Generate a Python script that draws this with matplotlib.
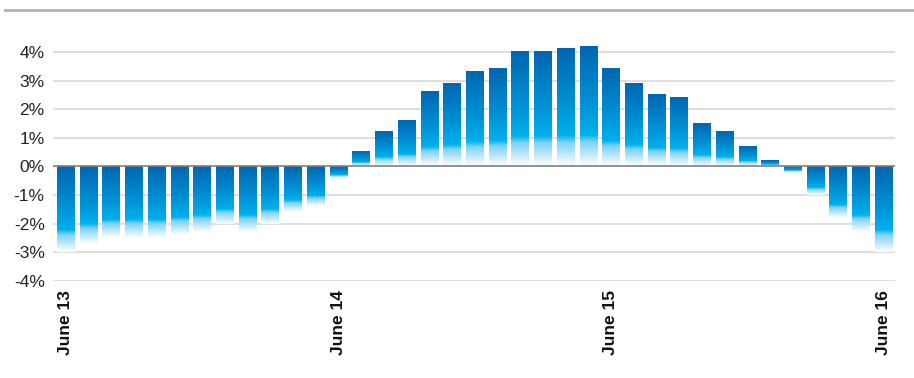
import numpy as np
import matplotlib
matplotlib.use('Agg')
import matplotlib.pyplot as plt
from matplotlib.colors import LinearSegmentedColormap
from matplotlib.lines import Line2D

plt.rcParams['font.family'] = ['Liberation Sans', 'DejaVu Sans']

# monthly values, June 13 .. June 16
values = [-3.0, -2.7, -2.5, -2.5, -2.5, -2.4, -2.3, -2.0, -2.3, -2.0, -1.6, -1.4, -0.4,
          0.5, 1.2, 1.6, 2.6, 2.9, 3.3, 3.4, 4.0, 4.0, 4.1, 4.2, 3.4, 2.9, 2.5,
          2.4, 1.5, 1.2, 0.7, 0.2, -0.2, -1.0, -1.8, -2.3, -3.0]
tick_pos = [0, 12, 24, 36]
tick_labels = ['June 13', 'June 14', 'June 15', 'June 16']
y_ticks = [-4, -3, -2, -1, 0, 1, 2, 3, 4]

fig = plt.figure(figsize=(9.14, 3.78), dpi=100)
ax = fig.add_axes([0.058, 0.2574, 0.921, 0.627])

x = np.arange(len(values))
bars = ax.bar(x, values, width=0.75, color='none', edgecolor='none', zorder=2)

cmap = LinearSegmentedColormap.from_list(
    'grad', [(0.0, '#0066b0'), (0.45, '#008fd3'), (0.74, '#00b0ec'), (0.80, '#7fd2f3'), (1.0, '#ffffff')])
grad = np.linspace(0, 1, 256).reshape(-1, 1)
for b in bars:
    x0 = b.get_x()
    w = b.get_width()
    y0 = b.get_y()
    h = b.get_height()
    lo, hi = min(y0, y0 + h), max(y0, y0 + h)
    ax.imshow(grad, cmap=cmap, aspect='auto', origin='upper',
              extent=(x0, x0 + w, lo, hi), zorder=3, interpolation='bilinear')

ax.set_xlim(-0.55, 36.5)
ax.set_ylim(-4, 4.3)
ax.set_yticks(y_ticks)
ax.set_yticklabels([f'{t}%' for t in y_ticks], fontsize=12.5, color='#222222')
ax.set_xticks(tick_pos)
ax.set_xticklabels(tick_labels, rotation=90, fontsize=12.5, fontweight='bold', color='#111111')
ax.tick_params(axis='both', length=0)
ax.tick_params(axis='y', pad=6)
ax.tick_params(axis='x', pad=7)

for t in y_ticks:
    if t == 0:
        continue
    ax.axhline(t, color='#dedede', linewidth=1.5, zorder=1)
ax.axhline(0, color='#808080', linewidth=1.2, zorder=4)

for s in ax.spines.values():
    s.set_visible(False)

fig.add_artist(Line2D([0.005, 1.0], [0.974, 0.974], transform=fig.transFigure,
                      color='#b4b4b4', linewidth=2))

fig.savefig('out.png', dpi=100)
